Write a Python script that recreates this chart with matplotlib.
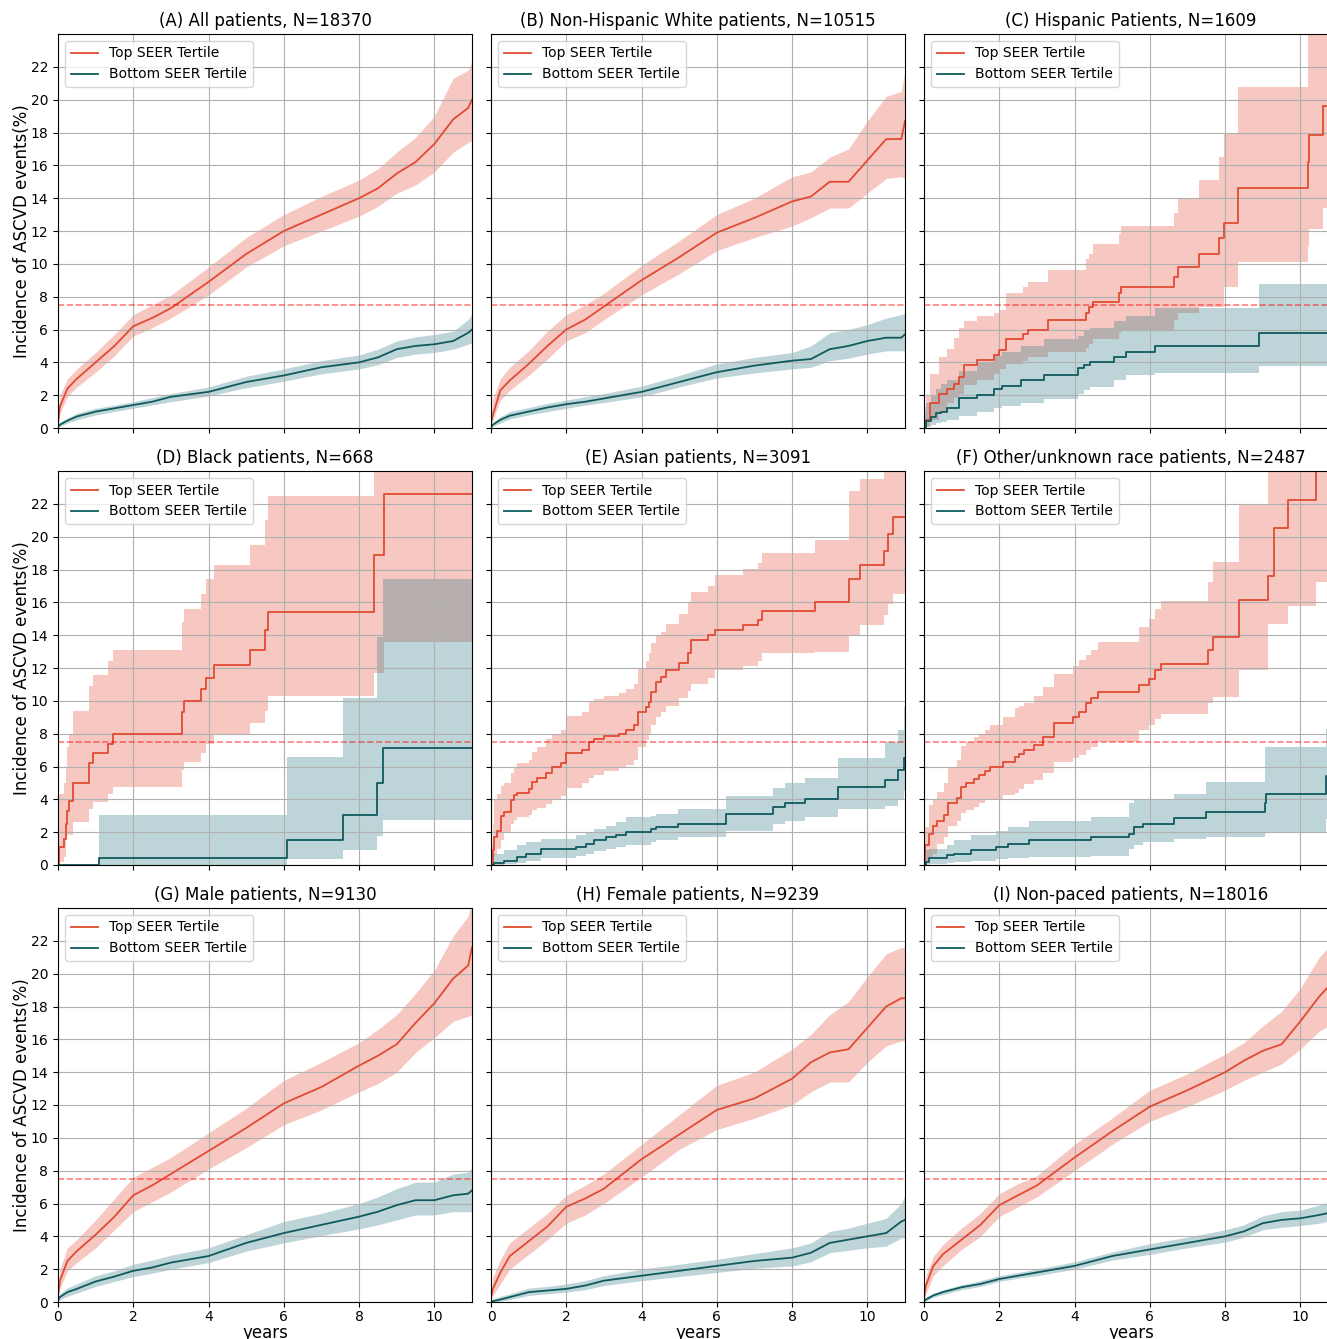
import numpy as np
import matplotlib.pyplot as plt

# Cumulative incidence of ASCVD events (%) for top vs bottom SEER tertile,
# read off the published figure. Dense curves (large groups) were read at
# fixed follow-up times; small groups are read step by step.

grid_t = [0, 0.05, 0.25, 0.5, 1, 1.5, 2, 2.5, 3, 4, 5, 6, 7, 8, 8.5, 9, 9.5, 10, 10.5, 10.9, 11]

# (A) all patients
a_top = [0.3, 1.3, 2.4, 3.0, 4.0, 5.0, 6.2, 6.7, 7.3, 8.9, 10.6, 12.0, 13.0, 14.0, 14.6, 15.5, 16.2, 17.3, 18.8, 19.5, 20.0]
a_top_lo = [0.2, 0.9, 1.9, 2.5, 3.4, 4.4, 5.6, 6.1, 6.7, 8.1, 9.8, 11.1, 12.0, 12.9, 13.5, 14.3, 14.8, 15.6, 16.8, 17.4, 17.5]
a_top_hi = [0.5, 2.0, 3.0, 3.6, 4.6, 5.7, 6.9, 7.5, 8.1, 9.8, 11.6, 13.0, 14.1, 15.1, 15.8, 16.8, 17.7, 19.0, 21.3, 21.8, 22.4]
a_bot = [0.1, 0.2, 0.45, 0.7, 1.0, 1.2, 1.4, 1.6, 1.9, 2.2, 2.8, 3.2, 3.7, 4.0, 4.3, 4.8, 5.0, 5.1, 5.3, 5.8, 6.0]
a_bot_lo = [0.0, 0.1, 0.3, 0.5, 0.8, 1.0, 1.2, 1.4, 1.6, 1.95, 2.45, 2.85, 3.3, 3.6, 3.85, 4.3, 4.5, 4.6, 4.8, 5.1, 5.2]
a_bot_hi = [0.2, 0.35, 0.6, 0.9, 1.2, 1.4, 1.6, 1.85, 2.1, 2.5, 3.15, 3.6, 4.1, 4.45, 4.8, 5.3, 5.55, 5.7, 5.9, 6.6, 7.0]

# (B) non-hispanic white
b_top = [0.3, 0.8, 2.3, 2.9, 3.9, 5.0, 6.0, 6.6, 7.4, 9.0, 10.4, 11.9, 12.8, 13.8, 14.1, 15.0, 15.0, 16.3, 17.6, 17.6, 18.7]
b_top_lo = [0.1, 0.5, 1.7, 2.3, 3.2, 4.2, 5.3, 5.8, 6.6, 8.1, 9.4, 10.8, 11.6, 12.3, 12.8, 13.4, 13.4, 14.3, 15.2, 15.3, 15.2]
b_top_hi = [0.5, 1.8, 3.0, 3.7, 4.7, 5.9, 6.9, 7.5, 8.2, 9.9, 11.4, 13.0, 14.0, 15.3, 15.6, 16.5, 17.0, 18.7, 20.2, 20.5, 21.8]
b_bot = [0.05, 0.2, 0.5, 0.75, 1.0, 1.25, 1.45, 1.6, 1.8, 2.2, 2.8, 3.4, 3.8, 4.1, 4.2, 4.8, 5.0, 5.3, 5.5, 5.5, 5.7]
b_bot_lo = [0.0, 0.1, 0.3, 0.55, 0.8, 1.0, 1.2, 1.4, 1.55, 1.9, 2.5, 3.05, 3.35, 3.6, 3.7, 4.1, 4.25, 4.5, 4.7, 4.7, 4.7]
b_bot_hi = [0.15, 0.35, 0.7, 1.0, 1.25, 1.5, 1.7, 1.9, 2.1, 2.55, 3.2, 3.9, 4.3, 4.6, 5.0, 5.8, 6.0, 6.3, 6.7, 6.9, 7.0]

# (C) hispanic
c_top_t = [0, 0.05, 0.15, 0.4, 0.62, 0.8, 0.93, 1.05, 1.42, 1.86, 2.0, 2.17, 2.62, 2.75, 3.3,
           4.3, 4.39, 4.48, 5.17, 5.23, 6.63, 6.74, 7.32, 7.83, 7.98, 8.34, 10.2, 10.23, 10.6, 10.9]
c_top = [0, 0.5, 1.5, 2.1, 2.4, 2.7, 3.1, 3.85, 4.15, 4.45, 4.75, 5.4, 5.7, 6.0, 6.6,
         7.0, 7.4, 7.7, 8.2, 8.6, 9.2, 9.8, 10.6, 11.6, 12.5, 14.6, 16.2, 17.85, 19.6, 21.0]
c_top_lo = [0, 0.1, 0.5, 1.0, 1.5, 1.8, 2.1, 2.6, 2.9, 3.3, 3.6, 3.9, 4.1, 4.3, 4.6,
            4.9, 5.1, 5.4, 5.8, 6.0, 6.6, 7.0, 7.4, 7.4, 8.6, 10.1, 11.05, 12.1, 13.4, 14.5]
c_top_hi = [1.3, 2.0, 3.3, 4.3, 4.8, 5.5, 6.1, 6.5, 6.8, 7.0, 7.2, 8.2, 8.6, 8.9, 9.6,
            10.3, 10.6, 11.2, 11.8, 12.3, 13.1, 14.0, 15.1, 16.5, 18.0, 20.75, 25, 25, 25, 25]
c_bot_t = [0, 0.04, 0.18, 0.31, 0.44, 0.62, 0.93, 1.42, 1.86, 2.08, 2.57, 3.19, 4.08, 4.26, 4.4, 5.06, 5.37, 6.15, 8.91]
c_bot = [0, 0.4, 0.7, 0.9, 1.0, 1.2, 1.8, 2.0, 2.35, 2.55, 2.95, 3.25, 3.65, 3.85, 4.05, 4.35, 4.65, 4.97, 5.8]
c_bot_lo = [0, 0.05, 0.2, 0.3, 0.35, 0.5, 0.75, 0.95, 1.2, 1.35, 1.55, 1.75, 2.1, 2.3, 2.5, 2.95, 3.25, 3.35, 3.75]
c_bot_hi = [0.9, 1.5, 2.0, 2.4, 2.7, 2.9, 3.45, 4.05, 4.36, 4.6, 4.97, 5.4, 5.6, 5.9, 6.1, 6.5, 6.8, 7.3, 8.8]

# (D) black
d_top_t = [0, 0.02, 0.15, 0.21, 0.24, 0.28, 0.41, 0.83, 0.92, 1.32, 1.46, 3.3, 3.36, 3.79, 3.94, 4.14, 5.09, 5.49, 5.58, 8.39, 8.66]
d_top = [0, 1.1, 1.6, 2.5, 3.3, 3.9, 5.0, 6.2, 6.8, 7.4, 8.0, 9.3, 10.0, 10.7, 11.4, 12.2, 13.1, 14.3, 15.4, 18.9, 22.6]
d_top_lo = [0, 0.2, 0.5, 1.8, 1.8, 1.8, 2.6, 3.4, 3.85, 4.35, 4.75, 5.8, 6.3, 6.8, 7.4, 8.0, 8.65, 9.4, 10.3, 11.7, 13.6]
d_top_hi = [4.3, 4.3, 5.0, 6.0, 7.2, 7.9, 9.4, 10.9, 11.6, 12.4, 13.1, 14.8, 15.6, 16.5, 17.4, 18.3, 19.5, 21.0, 22.5, 26, 26]
d_bot_t = [0, 1.08, 6.09, 7.58, 8.47, 8.64]
d_bot = [0, 0.45, 1.5, 3.05, 5.0, 7.1]
d_bot_lo = [0, 0, 0.35, 0.9, 1.75, 2.75]
d_bot_hi = [0, 3.05, 6.6, 10.2, 13.9, 17.45]

# (E) asian
e_top_t = [0, 0.04, 0.08, 0.17, 0.26, 0.35, 0.52, 0.61, 0.7, 1.01, 1.1, 1.23, 1.46, 1.63, 1.85,
           1.99, 2.43, 2.61, 2.74, 3.01, 3.41, 3.59, 3.81, 3.9, 4.12, 4.21, 4.25, 4.38, 4.52, 4.65,
           5.0, 5.23, 5.32, 5.76, 5.94, 6.69, 7.09, 7.2, 8.6, 9.51, 9.81, 10.44, 10.55, 10.68]
e_top = [0, 0.9, 1.7, 2.1, 3.0, 3.25, 3.95, 4.25, 4.4, 4.65, 5.05, 5.3, 5.6, 6.0, 6.2,
         6.8, 7.0, 7.5, 7.7, 7.85, 8.0, 8.2, 8.5, 9.3, 9.6, 9.95, 10.55, 11.15, 11.45, 11.85,
         12.3, 12.9, 13.7, 14.0, 14.3, 14.6, 14.9, 15.5, 16.0, 17.45, 18.25, 19.15, 20.15, 21.2]
e_top_lo = [0, 0.3, 0.6, 1.0, 1.5, 2.0, 2.5, 2.75, 2.9, 3.05, 3.35, 3.5, 3.7, 4.0, 4.2,
            4.7, 5.0, 5.3, 5.5, 5.7, 5.9, 6.1, 6.4, 7.2, 7.6, 8.0, 8.5, 9.0, 9.3, 9.7,
            10.2, 10.6, 11.05, 11.4, 11.85, 12.1, 12.4, 12.9, 13.0, 14.0, 14.6, 15.2, 15.9, 16.5]
e_top_hi = [1.3, 2.5, 3.95, 4.3, 4.8, 5.0, 5.6, 5.9, 6.2, 6.4, 6.9, 7.2, 7.7, 8.0, 8.2,
            9.1, 9.3, 9.95, 10.1, 10.3, 10.5, 10.75, 11.0, 12.0, 12.4, 12.9, 13.5, 14.0, 14.2, 14.7,
            15.3, 16.0, 16.6, 17.0, 17.65, 18.05, 18.4, 19.0, 19.8, 22.8, 23.5, 24.5, 25, 26]
e_bot_t = [0, 0.08, 0.35, 0.7, 0.92, 1.32, 2.25, 2.52, 2.74, 3.05, 3.32, 3.58, 4.25, 4.38, 4.96,
           6.25, 7.49, 7.8, 8.33, 9.22, 10.46, 10.82, 10.97]
e_bot = [0, 0.1, 0.25, 0.5, 0.7, 0.95, 1.1, 1.3, 1.5, 1.7, 1.8, 2.0, 2.2, 2.3, 2.5,
         3.1, 3.55, 3.75, 4.05, 4.75, 5.15, 5.8, 6.5]
e_bot_lo = [0, 0, 0.05, 0.15, 0.25, 0.4, 0.55, 0.7, 0.85, 1.0, 1.1, 1.2, 1.4, 1.5, 1.7,
            2.1, 2.5, 2.7, 2.9, 3.4, 3.6, 4.0, 4.5]
e_bot_hi = [0.6, 0.7, 0.9, 1.2, 1.4, 1.6, 1.8, 2.0, 2.2, 2.4, 2.6, 2.9, 3.0, 3.1, 3.4,
            4.2, 4.7, 5.0, 5.3, 6.5, 7.5, 8.2, 9.6]

# (F) other/unknown race
f_top_t = [0, 0.03, 0.12, 0.24, 0.35, 0.53, 0.65, 0.89, 0.98, 1.11, 1.33, 1.45, 1.62, 1.75, 2.1,
           2.42, 2.53, 2.66, 2.93, 3.15, 3.46, 3.95, 4.11, 4.3, 4.43, 4.61, 5.72, 5.99, 6.15, 6.3,
           7.54, 7.69, 8.36, 9.14, 9.29, 9.67, 10.42]
f_top = [0, 1.2, 1.9, 2.4, 2.65, 3.05, 3.75, 4.1, 4.75, 5.0, 5.25, 5.5, 5.7, 6.0, 6.25,
         6.6, 6.75, 7.0, 7.3, 7.8, 8.65, 9.0, 9.3, 9.85, 10.2, 10.55, 10.95, 11.35, 11.85, 12.25,
         13.1, 13.9, 16.15, 17.6, 20.55, 22.25, 25.0]
f_top_lo = [0, 0.2, 0.4, 0.7, 1.3, 1.7, 2.35, 2.65, 3.15, 3.35, 3.55, 3.75, 3.95, 4.05, 4.25,
            4.4, 4.65, 4.95, 5.2, 5.6, 6.3, 6.5, 6.7, 7.0, 7.2, 7.5, 8.2, 8.5, 8.9, 9.2,
            9.85, 10.25, 11.85, 14.7, 14.7, 15.8, 17.25]
f_top_hi = [1.2, 2.3, 3.65, 4.0, 4.45, 5.0, 6.0, 6.4, 7.25, 7.5, 7.8, 8.0, 8.2, 8.5, 9.0,
            9.55, 9.7, 9.85, 10.3, 10.85, 11.65, 12.15, 12.5, 12.8, 13.1, 13.6, 14.5, 15.0, 15.6, 16.1,
            17.25, 18.45, 21.9, 25, 26, 26, 27]
f_bot_t = [0, 0.04, 0.13, 0.62, 0.8, 1.24, 1.91, 2.22, 2.79, 4.43, 5.44, 5.59, 5.81, 6.63, 7.48, 9.05, 9.09, 10.69]
f_bot = [0, 0.2, 0.4, 0.6, 0.7, 0.9, 1.1, 1.3, 1.5, 1.7, 1.9, 2.3, 2.5, 2.85, 3.25, 3.75, 4.35, 5.4]
f_bot_lo = [0, 0, 0.05, 0.15, 0.2, 0.25, 0.35, 0.45, 0.5, 0.55, 0.95, 1.2, 1.4, 1.6, 1.7, 1.9, 2.0, 2.8]
f_bot_hi = [0.3, 0.9, 1.0, 1.2, 1.5, 1.8, 2.1, 2.3, 2.65, 2.95, 3.75, 4.05, 4.05, 4.35, 5.05, 7.2, 7.2, 8.3]

# (G) male
g_top = [0.4, 1.3, 2.5, 3.1, 4.1, 5.2, 6.5, 7.1, 7.8, 9.2, 10.6, 12.1, 13.1, 14.4, 15.0, 15.7, 17.0, 18.2, 19.7, 20.5, 21.6]
g_top_lo = [0.2, 0.8, 1.9, 2.4, 3.3, 4.4, 5.5, 6.1, 6.7, 8.1, 9.4, 10.8, 11.7, 12.8, 13.3, 14.0, 15.2, 16.1, 17.1, 17.4, 17.5]
g_top_hi = [0.6, 2.0, 3.3, 3.8, 5.0, 6.3, 7.6, 8.2, 8.8, 10.3, 11.8, 13.5, 14.6, 15.8, 16.6, 17.5, 18.8, 20.2, 22.3, 23.5, 24.5]
g_bot = [0.1, 0.3, 0.6, 0.8, 1.25, 1.55, 1.9, 2.1, 2.4, 2.8, 3.6, 4.2, 4.7, 5.2, 5.5, 5.9, 6.2, 6.2, 6.5, 6.6, 6.8]
g_bot_lo = [0.0, 0.15, 0.35, 0.55, 0.95, 1.25, 1.55, 1.75, 2.0, 2.4, 3.1, 3.6, 4.05, 4.45, 4.7, 5.0, 5.3, 5.3, 5.5, 5.5, 5.5]
g_bot_hi = [0.2, 0.5, 0.85, 1.1, 1.6, 1.9, 2.3, 2.55, 2.85, 3.3, 4.1, 4.9, 5.4, 6.0, 6.4, 6.9, 7.3, 7.3, 7.8, 7.9, 8.2]

# (H) female
h_top = [0.3, 0.8, 1.8, 2.8, 3.7, 4.6, 5.8, 6.3, 6.9, 8.7, 10.2, 11.7, 12.4, 13.6, 14.6, 15.2, 15.4, 16.7, 18.0, 18.5, 18.5]
h_top_lo = [0.1, 0.4, 1.1, 2.0, 2.9, 3.8, 4.8, 5.3, 6.0, 7.6, 9.3, 10.5, 11.2, 12.0, 12.8, 13.4, 13.4, 14.6, 15.6, 15.9, 15.9]
h_top_hi = [0.5, 1.5, 2.6, 3.6, 4.5, 5.4, 6.5, 7.1, 7.8, 9.6, 11.4, 13.2, 14.0, 15.4, 16.3, 17.5, 18.3, 19.8, 21.2, 21.6, 21.6]
h_bot = [0.0, 0.05, 0.15, 0.3, 0.6, 0.7, 0.8, 1.0, 1.3, 1.6, 1.9, 2.2, 2.5, 2.7, 3.0, 3.6, 3.8, 4.0, 4.2, 4.9, 5.0]
h_bot_lo = [0.0, 0.0, 0.05, 0.15, 0.4, 0.5, 0.6, 0.75, 1.0, 1.3, 1.55, 1.8, 2.05, 2.2, 2.45, 3.0, 3.15, 3.3, 3.4, 3.9, 3.9]
h_bot_hi = [0.1, 0.2, 0.35, 0.5, 0.85, 0.95, 1.1, 1.3, 1.6, 2.0, 2.3, 2.6, 2.95, 3.3, 3.6, 4.3, 4.5, 4.8, 5.1, 6.0, 6.5]

# (I) non-paced
i_top = [0.3, 1.0, 2.2, 2.9, 3.8, 4.7, 5.9, 6.5, 7.1, 8.8, 10.4, 11.9, 12.9, 14.0, 14.7, 15.3, 15.7, 17.1, 18.6, 19.6, 20.0]
i_top_lo = [0.1, 0.5, 1.6, 2.2, 3.2, 4.0, 5.2, 5.8, 6.4, 8.0, 9.6, 11.0, 11.9, 12.9, 13.5, 14.0, 14.5, 15.4, 16.5, 17.0, 17.5]
i_top_hi = [0.5, 1.6, 2.8, 3.5, 4.5, 5.4, 6.6, 7.2, 7.7, 9.6, 11.2, 12.9, 13.9, 15.1, 15.8, 16.8, 17.7, 19.1, 21.0, 22.0, 22.5]
i_bot = [0.05, 0.15, 0.4, 0.6, 0.9, 1.1, 1.4, 1.6, 1.8, 2.2, 2.8, 3.2, 3.6, 4.0, 4.3, 4.8, 5.0, 5.1, 5.3, 5.5, 5.5]
i_bot_lo = [0.0, 0.05, 0.3, 0.45, 0.75, 0.95, 1.25, 1.45, 1.6, 2.0, 2.55, 2.9, 3.3, 3.65, 3.95, 4.4, 4.55, 4.65, 4.8, 5.0, 5.0]
i_bot_hi = [0.1, 0.3, 0.55, 0.75, 1.05, 1.3, 1.6, 1.8, 2.0, 2.45, 3.05, 3.55, 3.95, 4.4, 4.7, 5.25, 5.5, 5.6, 5.9, 6.2, 6.3]

titles = ["(A) All patients, N=18370", "(B) Non-Hispanic White patients, N=10515",
          "(C) Hispanic Patients, N=1609", "(D) Black patients, N=668",
          "(E) Asian patients, N=3091", "(F) Other/unknown race patients, N=2487",
          "(G) Male patients, N=9130", "(H) Female patients, N=9239",
          "(I) Non-paced patients, N=18016"]

# per panel: (top times, est, lo, hi), (bottom times, est, lo, hi), stepped?
panels = [
    ((grid_t, a_top, a_top_lo, a_top_hi), (grid_t, a_bot, a_bot_lo, a_bot_hi), False),
    ((grid_t, b_top, b_top_lo, b_top_hi), (grid_t, b_bot, b_bot_lo, b_bot_hi), False),
    ((c_top_t, c_top, c_top_lo, c_top_hi), (c_bot_t, c_bot, c_bot_lo, c_bot_hi), True),
    ((d_top_t, d_top, d_top_lo, d_top_hi), (d_bot_t, d_bot, d_bot_lo, d_bot_hi), True),
    ((e_top_t, e_top, e_top_lo, e_top_hi), (e_bot_t, e_bot, e_bot_lo, e_bot_hi), True),
    ((f_top_t, f_top, f_top_lo, f_top_hi), (f_bot_t, f_bot, f_bot_lo, f_bot_hi), True),
    ((grid_t, g_top, g_top_lo, g_top_hi), (grid_t, g_bot, g_bot_lo, g_bot_hi), False),
    ((grid_t, h_top, h_top_lo, h_top_hi), (grid_t, h_bot, h_bot_lo, h_bot_hi), False),
    ((grid_t, i_top, i_top_lo, i_top_hi), (grid_t, i_bot, i_bot_lo, i_bot_hi), False),
]

T_END = 11.0
RED = '#E24A33'
TEAL_LINE = '#105a5e'
TEAL_FILL = '#26777f'


def draw_curve(ax, series, line_c, fill_c, label, step):
    t, est, lo, hi = [np.asarray(v, dtype=float) for v in series]
    if step:
        # carry the last value to the end of follow-up
        t = np.append(t, T_END)
        est, lo, hi = [np.append(v, v[-1]) for v in (est, lo, hi)]
        ax.fill_between(t, lo, hi, step='post', color=fill_c, alpha=0.3, lw=0)
        ax.plot(t, est, drawstyle='steps-post', color=line_c, lw=1.3, label=label)
    else:
        ax.fill_between(t, lo, hi, color=fill_c, alpha=0.3, lw=0)
        ax.plot(t, est, color=line_c, lw=1.3, label=label)


W, H = 1327, 1339
fig = plt.figure(figsize=(W / 100, H / 100), dpi=100)

col_left = [58, 491, 924]
row_bottom = [428, 865, 1302]
ax_w, ax_h = 414, 394

for k, (top, bot, step) in enumerate(panels):
    r, c = divmod(k, 3)
    ax = fig.add_axes([col_left[c] / W, 1 - row_bottom[r] / H, ax_w / W, ax_h / H])
    draw_curve(ax, top, RED, RED, 'Top SEER Tertile', step)
    draw_curve(ax, bot, TEAL_LINE, TEAL_FILL, 'Bottom SEER Tertile', step)
    ax.axhline(7.5, color='red', alpha=0.5, ls='--', lw=1.2)
    ax.set_xlim(0, T_END)
    ax.set_ylim(0, 24)
    ax.set_xticks(range(0, 11, 2))
    ax.set_yticks(range(0, 23, 2))
    ax.grid(True, color='#b0b0b0', lw=0.8)
    ax.tick_params(labelsize=10, labelleft=(c == 0), labelbottom=(r == 2))
    ax.tick_params(axis='x', pad=2)
    ax.set_title(titles[k], fontsize=12)
    ax.legend(loc='upper left', fontsize=10)
    if c == 0:
        ax.set_ylabel('Incidence of ASCVD events(%)', fontsize=12, labelpad=0)
    if r == 2:
        ax.set_xlabel('years', fontsize=12, labelpad=0)

fig.savefig('out.png', dpi=100)
